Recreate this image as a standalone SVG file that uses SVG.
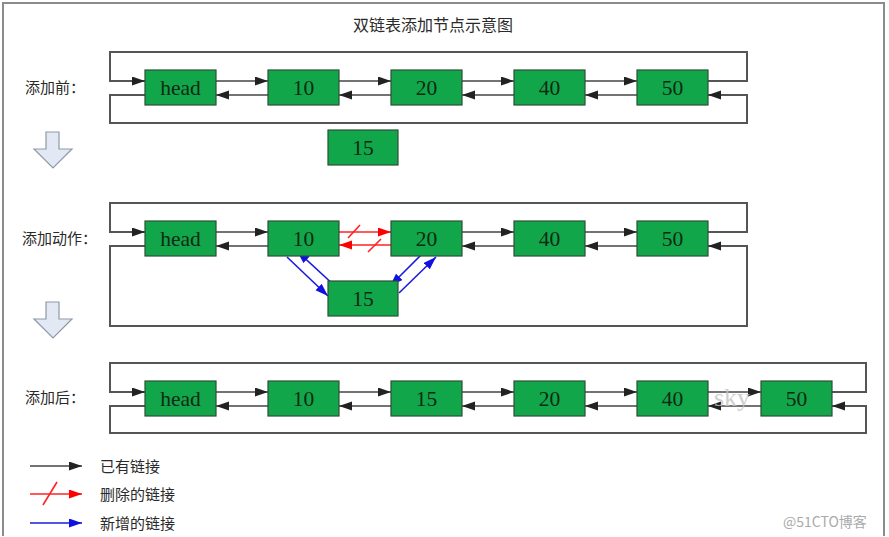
<svg xmlns="http://www.w3.org/2000/svg" width="889" height="537" viewBox="0 0 889 537">
<style>
.frame{fill:#fff;stroke:#8c8c8c;stroke-width:2}
.node rect{fill:#12a64b;stroke:#2d4f38;stroke-width:1.2}
.node text{font-family:"Liberation Serif","DejaVu Serif",serif;font-size:21.5px;fill:#0f2a14;text-anchor:middle}
.lbl{font-family:"Noto Sans CJK SC","Noto Sans",sans-serif;font-size:15px;fill:#2a2a2a}
.title{font-family:"Noto Sans CJK SC","Noto Sans",sans-serif;font-size:16px;fill:#2a2a2a;text-anchor:middle}
.k{stroke:#444;stroke-width:1.6;fill:none}
.loop{stroke:#555;stroke-width:2;fill:none}
.r{stroke:#f22;stroke-width:1.6;fill:none}
.b{stroke:#1a1ae0;stroke-width:1.6;fill:none}
.down{fill:#e2e9f4;stroke:#8d99a8;stroke-width:1.2}
.wm{font-family:"Liberation Serif",serif;font-size:26px;fill:#c4c4c4}
.wm2{font-family:"Noto Sans CJK SC","Noto Sans",sans-serif;font-size:14px;fill:#aaa}
</style>
<defs>
<marker id="ak" markerUnits="userSpaceOnUse" markerWidth="14" markerHeight="10" refX="13" refY="4.5" orient="auto"><path d="M0,0 L13,4.5 L0,9 z" fill="#222"/></marker>
<marker id="ar" markerUnits="userSpaceOnUse" markerWidth="14" markerHeight="10" refX="13" refY="4.5" orient="auto"><path d="M0,0 L13,4.5 L0,9 z" fill="#f00"/></marker>
<marker id="ab" markerUnits="userSpaceOnUse" markerWidth="14" markerHeight="10" refX="13" refY="4.5" orient="auto"><path d="M0,0 L13,4.5 L0,9 z" fill="#1010e0"/></marker>
</defs>
<path class="frame" d="M3,536 V3 H884 V536" fill="none"/>
<text class="title" x="433" y="31">双链表添加节点示意图</text>

<text class="lbl" x="25" y="93">添加前：</text>
<text class="lbl" x="22" y="244">添加动作：</text>
<text class="lbl" x="25" y="403">添加后：</text>

<polygon class="down" points="46,132 59,132 59,149 72,149 53,168 34,149 46,149"/>
<polygon class="down" points="46,302 59,302 59,319 72,319 53,338 34,319 46,319"/>

<g id="connectors">
<!-- row 1 -->
<path class="loop" d="M708,81 H747 V52 H110 V81 H145" marker-end="url(#ak)"/>
<path class="loop" d="M145,95 H110 V123 H747 V95 H708" marker-end="url(#ak)"/>
<line class="k" x1="216" y1="81" x2="268" y2="81" marker-end="url(#ak)"/>
<line class="k" x1="339" y1="81" x2="391" y2="81" marker-end="url(#ak)"/>
<line class="k" x1="462" y1="81" x2="514" y2="81" marker-end="url(#ak)"/>
<line class="k" x1="585" y1="81" x2="637" y2="81" marker-end="url(#ak)"/>
<line class="k" x1="268" y1="95" x2="216" y2="95" marker-end="url(#ak)"/>
<line class="k" x1="391" y1="95" x2="339" y2="95" marker-end="url(#ak)"/>
<line class="k" x1="514" y1="95" x2="462" y2="95" marker-end="url(#ak)"/>
<line class="k" x1="637" y1="95" x2="585" y2="95" marker-end="url(#ak)"/>
<!-- row 2 -->
<path class="loop" d="M708,232 H747 V203 H110 V232 H145" marker-end="url(#ak)"/>
<path class="loop" d="M145,246 H110 V326 H747 V246 H708" marker-end="url(#ak)"/>
<line class="k" x1="216" y1="232" x2="268" y2="232" marker-end="url(#ak)"/>
<line class="k" x1="462" y1="232" x2="514" y2="232" marker-end="url(#ak)"/>
<line class="k" x1="585" y1="232" x2="637" y2="232" marker-end="url(#ak)"/>
<line class="k" x1="268" y1="246" x2="216" y2="246" marker-end="url(#ak)"/>
<line class="k" x1="514" y1="246" x2="462" y2="246" marker-end="url(#ak)"/>
<line class="k" x1="637" y1="246" x2="585" y2="246" marker-end="url(#ak)"/>
<line class="r" x1="339" y1="232" x2="391" y2="232" marker-end="url(#ar)"/>
<line class="r" x1="348" y1="238" x2="360" y2="225"/>
<line class="r" x1="391" y1="245" x2="339" y2="245" marker-end="url(#ar)"/>
<line class="r" x1="368" y1="252" x2="381" y2="239"/>
<line class="b" x1="287" y1="257" x2="328" y2="296" marker-end="url(#ab)"/>
<line class="b" x1="336" y1="287" x2="297" y2="251" marker-end="url(#ab)"/>
<line class="b" x1="427" y1="249" x2="390" y2="286" marker-end="url(#ab)"/>
<line class="b" x1="399" y1="293" x2="436" y2="257" marker-end="url(#ab)"/>
<!-- row 3 -->
<path class="loop" d="M832,392 H866 V363 H110 V392 H145" marker-end="url(#ak)"/>
<path class="loop" d="M145,406 H110 V433 H866 V406 H832" marker-end="url(#ak)"/>
<line class="k" x1="216" y1="392" x2="268" y2="392" marker-end="url(#ak)"/>
<line class="k" x1="339" y1="392" x2="391" y2="392" marker-end="url(#ak)"/>
<line class="k" x1="462" y1="392" x2="514" y2="392" marker-end="url(#ak)"/>
<line class="k" x1="585" y1="392" x2="637" y2="392" marker-end="url(#ak)"/>
<line class="k" x1="708" y1="392" x2="761" y2="392" marker-end="url(#ak)"/>
<line class="k" x1="268" y1="406" x2="216" y2="406" marker-end="url(#ak)"/>
<line class="k" x1="391" y1="406" x2="339" y2="406" marker-end="url(#ak)"/>
<line class="k" x1="514" y1="406" x2="462" y2="406" marker-end="url(#ak)"/>
<line class="k" x1="637" y1="406" x2="585" y2="406" marker-end="url(#ak)"/>
<line class="k" x1="761" y1="406" x2="708" y2="406" marker-end="url(#ak)"/>
<!-- legend -->
<line class="k" x1="30" y1="466" x2="82" y2="466" marker-end="url(#ak)"/>
<line class="r" x1="30" y1="494" x2="82" y2="494" marker-end="url(#ar)"/>
<line class="r" x1="43" y1="505" x2="57" y2="482"/>
<line class="b" x1="30" y1="523" x2="82" y2="523" marker-end="url(#ab)"/>
</g>

<g id="r1-head" class="node"><rect x="145" y="70" width="71" height="35"/><text x="180.5" y="94.5">head</text></g>
<g id="r1-10" class="node"><rect x="268" y="70" width="71" height="35"/><text x="303.5" y="94.5">10</text></g>
<g id="r1-20" class="node"><rect x="391" y="70" width="71" height="35"/><text x="426.5" y="94.5">20</text></g>
<g id="r1-40" class="node"><rect x="514" y="70" width="71" height="35"/><text x="549.5" y="94.5">40</text></g>
<g id="r1-50" class="node"><rect x="637" y="70" width="71" height="35"/><text x="672.5" y="94.5">50</text></g>
<g id="r1-15" class="node"><rect x="328" y="130" width="70" height="35"/><text x="363" y="154.5">15</text></g>

<g id="r2-head" class="node"><rect x="145" y="221" width="71" height="35"/><text x="180.5" y="245.5">head</text></g>
<g id="r2-10" class="node"><rect x="268" y="221" width="71" height="35"/><text x="303.5" y="245.5">10</text></g>
<g id="r2-20" class="node"><rect x="391" y="221" width="71" height="35"/><text x="426.5" y="245.5">20</text></g>
<g id="r2-40" class="node"><rect x="514" y="221" width="71" height="35"/><text x="549.5" y="245.5">40</text></g>
<g id="r2-50" class="node"><rect x="637" y="221" width="71" height="35"/><text x="672.5" y="245.5">50</text></g>
<g id="r2-15" class="node"><rect x="328" y="281" width="70" height="35"/><text x="363" y="305.5">15</text></g>

<g id="r3-head" class="node"><rect x="145" y="381" width="71" height="35"/><text x="180.5" y="405.5">head</text></g>
<g id="r3-10" class="node"><rect x="268" y="381" width="71" height="35"/><text x="303.5" y="405.5">10</text></g>
<g id="r3-15" class="node"><rect x="391" y="381" width="71" height="35"/><text x="426.5" y="405.5">15</text></g>
<g id="r3-20" class="node"><rect x="514" y="381" width="71" height="35"/><text x="549.5" y="405.5">20</text></g>
<g id="r3-40" class="node"><rect x="637" y="381" width="71" height="35"/><text x="672.5" y="405.5">40</text></g>
<g id="r3-50" class="node"><rect x="761" y="381" width="71" height="35"/><text x="796.5" y="405.5">50</text></g>

<text class="wm" x="714" y="406" opacity="0.8">sky</text>

<text class="lbl" x="100" y="472">已有链接</text>
<text class="lbl" x="100" y="500">删除的链接</text>
<text class="lbl" x="100" y="529">新增的链接</text>

<text class="wm2" x="783" y="527">@51CTO博客</text>
</svg>
